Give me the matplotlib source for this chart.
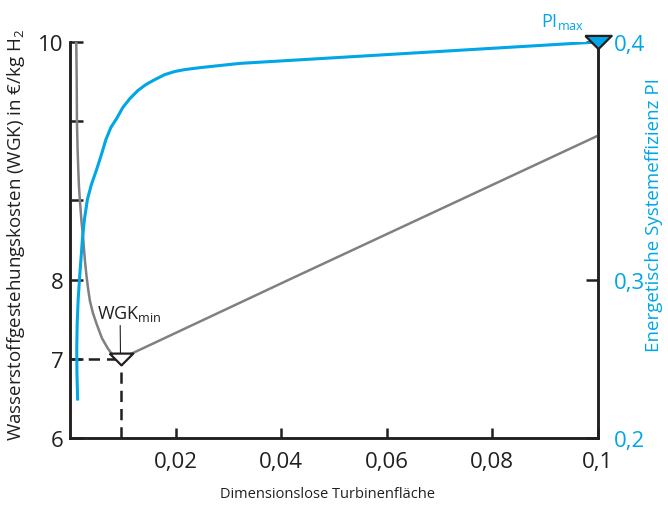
import numpy as np
import matplotlib
matplotlib.use("Agg")
import matplotlib.pyplot as plt

plt.rcParams['font.family'] = ['Open Sans', 'DejaVu Sans']
plt.rcParams['mathtext.fontset'] = 'custom'
plt.rcParams['mathtext.rm'] = 'Open Sans'

# Wasserstoffgestehungskosten (linke Achse)
x_wgk = [0.0011, 0.00118, 0.00123, 0.00135, 0.00148, 0.00161, 0.0018, 0.00209,
         0.00243, 0.00275, 0.00307, 0.00341, 0.0037, 0.00427, 0.00497, 0.00597,
         0.00705, 0.00787, 0.00863, 0.0095, 0.0415, 0.1]
wgk = [10.0, 9.685, 9.331, 9.096, 8.928, 8.785, 8.659, 8.491,
       8.339, 8.155, 8.020, 7.854, 7.728, 7.576, 7.438, 7.261,
       7.135, 7.059, 7.015, 7.0, 8.0, 9.21]

# Energetische Systemeffizienz (rechte Achse)
x_pi = [0.00136, 0.00123, 0.00119, 0.00127, 0.00146, 0.00171, 0.00199, 0.00227,
        0.00265, 0.00322, 0.00398, 0.00497, 0.00588, 0.00673, 0.00768, 0.00876,
        0.00995, 0.01128, 0.0128, 0.01432, 0.01602, 0.01791, 0.01981, 0.02171,
        0.02455, 0.03213, 0.1]
pi = [0.2246, 0.2404, 0.2561, 0.2719, 0.2876, 0.3002, 0.3086, 0.3170,
      0.3254, 0.3338, 0.3401, 0.3464, 0.3527, 0.3590, 0.3641, 0.3678,
      0.3725, 0.3762, 0.3796, 0.3821, 0.3842, 0.3863, 0.3876, 0.3884,
      0.3892, 0.3910, 0.4]

x_min, wgk_min = 0.0095, 7.0
x_max, pi_max = 0.1, 0.4

x_ticks = [0.02, 0.04, 0.06, 0.08, 0.1]
x_labels = ['0,02', '0,04', '0,06', '0,08', '0,1']
wgk_ticks = [6, 7, 8, 8 + 2 / 3, 8 + 4 / 3, 10]
wgk_labels = ['6', '7', '8', '', '', '10']
pi_ticks = [0.2, 0.3, 0.4]
pi_labels = ['0,2', '0,3', '0,4']

blue = '#00a6e6'
grey = '#808080'
dark = '#231f20'


# achsen sind oberhalb von 8 bzw. 0,3 gestreckt
def wgk_fwd(v):
    v = np.asarray(v, dtype=float)
    return np.where(v <= 8, v, 8 + (v - 8) * 1.5)


def wgk_inv(p):
    p = np.asarray(p, dtype=float)
    return np.where(p <= 8, p, 8 + (p - 8) / 1.5)


def pi_fwd(v):
    v = np.asarray(v, dtype=float)
    return np.where(v <= 0.3, (v - 0.2) * 20, 2 + (v - 0.3) * 30)


def pi_inv(q):
    q = np.asarray(q, dtype=float)
    return np.where(q <= 2, 0.2 + q / 20, 0.3 + (q - 2) / 30)


fig = plt.figure(figsize=(6.68, 5.06), dpi=100)
ax = fig.add_axes([0.1055, 0.1324, 0.789, 0.7826])
ax2 = ax.twinx()

ax.set_yscale('function', functions=(wgk_fwd, wgk_inv))
ax2.set_yscale('function', functions=(pi_fwd, pi_inv))

tri = [(-1, 0.5), (1, 0.5), (0, -0.5), (-1, 0.5)]

ax.plot(x_wgk, wgk, color=grey, lw=1.8, zorder=3)
ax.plot([0, x_min], [wgk_min, wgk_min], color=dark, lw=1.8, dashes=(4.5, 2.8), zorder=2)
ax.plot([x_min, x_min], [6, wgk_min], color=dark, lw=1.8, dashes=(4.5, 2.8), zorder=2)
ax.annotate(r'WGK$_\mathregular{min}$', xy=(x_min, wgk_min), xytext=(-17, 26),
            textcoords='offset points', ha='left', va='bottom', fontsize=13, color=dark,
            arrowprops=dict(arrowstyle='-', lw=0.8, color=dark, shrinkA=0, shrinkB=0,
                            relpos=(0.36, 0)))
ax.plot([x_min], [wgk_min], marker=tri, ms=17, mfc='white', mec=dark, mew=1.6,
        ls='none', zorder=5, clip_on=False)

ax2.plot(x_pi, pi, color=blue, lw=2.2, zorder=3)
ax2.plot([x_max], [pi_max], marker=tri, ms=19, mfc=blue, mec=dark, mew=1.6,
         ls='none', zorder=5, clip_on=False)
ax2.annotate(r'PI$_\mathregular{max}$', xy=(x_max, pi_max), xytext=(-25, 8),
             textcoords='offset points', ha='center', va='bottom', fontsize=13, color=blue)

ax.set_xlim(0, 0.1)
ax.set_ylim(6, 10)
ax2.set_ylim(0.2, 0.4)

ax.set_xticks(x_ticks)
ax.set_xticklabels(x_labels)
ax.set_yticks(wgk_ticks)
ax.set_yticklabels(wgk_labels)
ax.yaxis.set_minor_locator(matplotlib.ticker.NullLocator())
ax2.set_yticks(pi_ticks)
ax2.set_yticklabels(pi_labels)
ax2.yaxis.set_minor_locator(matplotlib.ticker.NullLocator())

for a in (ax, ax2):
    a.spines['top'].set_visible(False)
    for s in ('left', 'right', 'bottom'):
        a.spines[s].set_linewidth(1.8)
        a.spines[s].set_color(dark)

ax.tick_params(axis='y', direction='in', length=9, width=1.8, color=dark,
               labelsize=16, pad=5, labelcolor=dark)
ax.tick_params(axis='x', direction='in', length=7, width=1.8, color=dark,
               labelsize=16, pad=9, labelcolor=dark)
ax2.tick_params(axis='y', direction='in', length=9, width=1.8, color=dark,
                labelsize=16, pad=12, labelcolor=blue)

ax.set_xlabel('Dimensionslose Turbinenfläche', fontsize=10.5, color=dark)
ax.xaxis.set_label_coords(0.487, -0.12)
ax.set_ylabel(r'Wasserstoffgestehungskosten (WGK) in €/kg H$_\mathregular{2}$',
              fontsize=13.5, color=dark)
ax.yaxis.set_label_coords(-0.0825, 0.515)
ax2.set_ylabel('Energetische Systemeffizienz PI', fontsize=13.5, color=blue)
ax2.yaxis.set_label_coords(1.09, 0.566)

fig.savefig('out.png', dpi=100)
